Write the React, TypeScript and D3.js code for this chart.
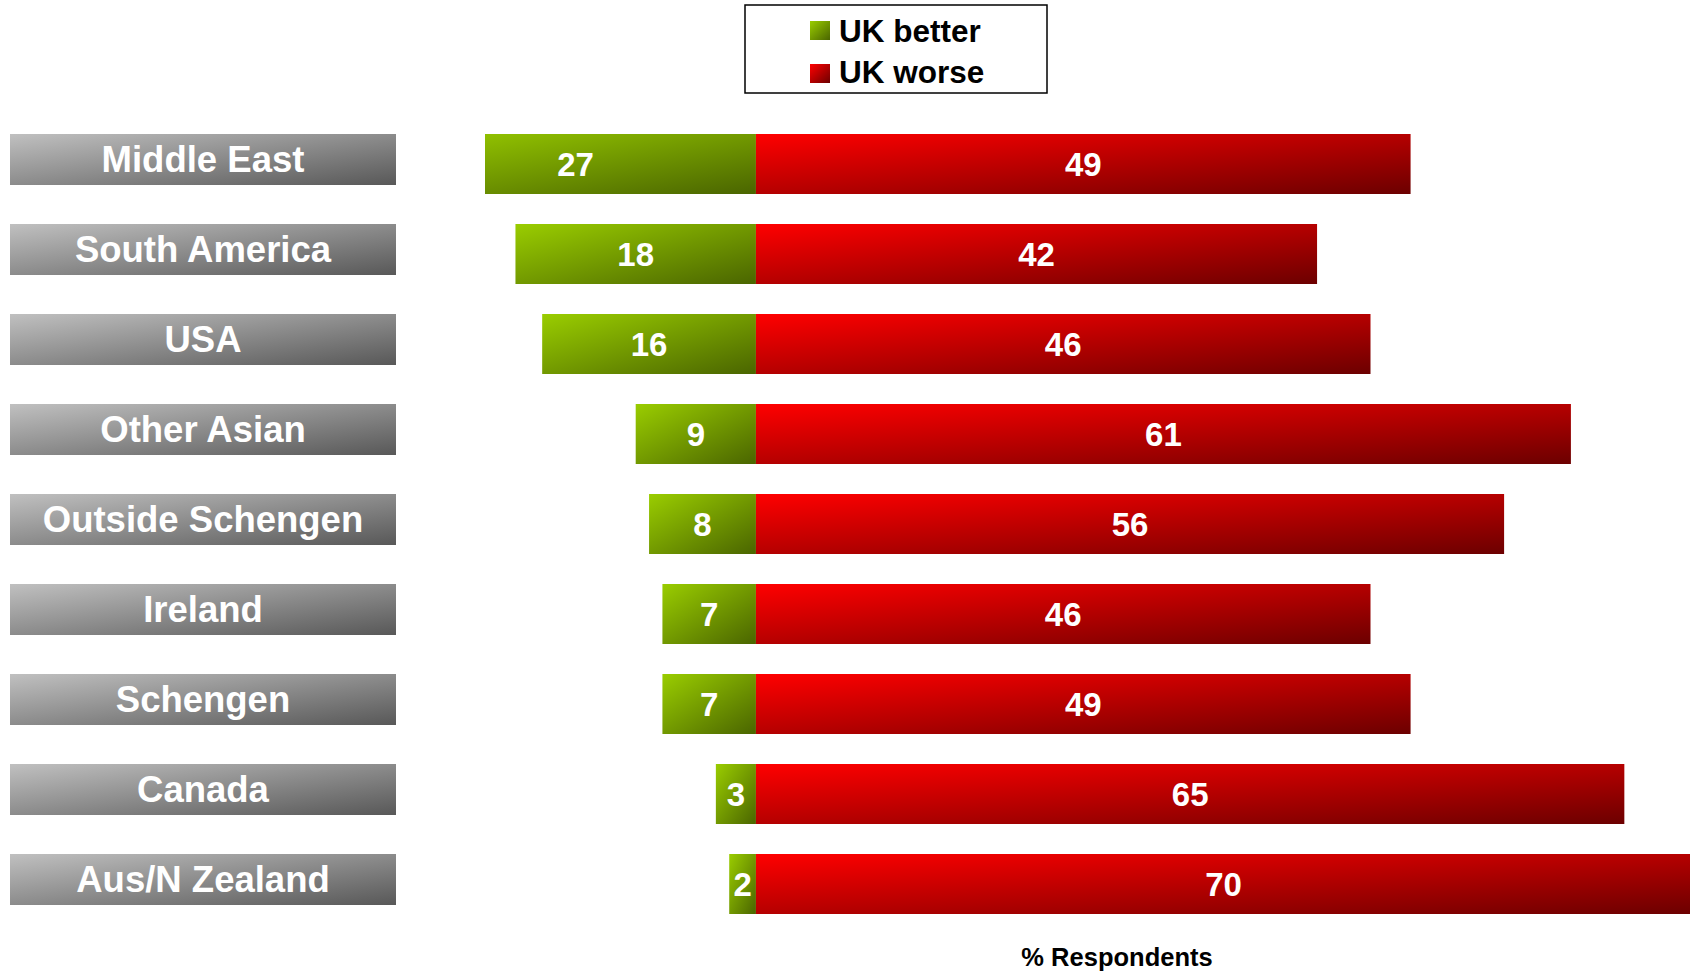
import React from "react";
import * as d3 from "d3";

const categories = [
  "Middle East",
  "South America",
  "USA",
  "Other Asian",
  "Outside Schengen",
  "Ireland",
  "Schengen",
  "Canada",
  "Aus/N Zealand",
];
const ukBetter = [27, 18, 16, 9, 8, 7, 7, 3, 2];
const ukWorse = [49, 42, 46, 61, 56, 46, 49, 65, 70];
const seriesNames = ["UK better", "UK worse"];
const axisTitle = "% Respondents";

const W = 1690;
const H = 973;
const FONT = "'Liberation Sans', Arial, Helvetica, sans-serif";

export default function App() {
  const plotLeft = 485;
  const plotRight = 1690;
  const x = d3.scaleLinear().domain([-20.28, 70]).range([485, 485 + 90.28 * 13.36]);
  const y = d3.scaleBand<string>().domain(categories).range([134, 914]).paddingInner(1 / 3).paddingOuter(0);
  const bw = y.bandwidth();

  return (
    <svg width={W} height={H} style={{ position: "absolute", left: 0, top: 0, background: "#fff" }}>
      <defs>
        <linearGradient id="gGreen" x1="0" y1="0" x2="1" y2="1">
          <stop offset="0" stopColor="#9acd00" />
          <stop offset="1" stopColor="#4a6500" />
        </linearGradient>
        <linearGradient id="gRed" x1="0" y1="0" x2="1" y2="1">
          <stop offset="0" stopColor="#ff0000" />
          <stop offset="1" stopColor="#6c0000" />
        </linearGradient>
        <linearGradient id="gGray" x1="0" y1="0" x2="1" y2="1">
          <stop offset="0" stopColor="#c0c0c0" />
          <stop offset="1" stopColor="#585858" />
        </linearGradient>
        <clipPath id="plotClip">
          <rect x={plotLeft} y={0} width={plotRight - plotLeft} height={H} />
        </clipPath>
      </defs>

      {/* category label boxes */}
      {categories.map((c) => (
        <g key={"lab" + c}>
          <rect x={10} y={y(c)!} width={386} height={51} fill="url(#gGray)" />
          <text
            x={203}
            y={y(c)! + 38}
            textAnchor="middle"
            fontFamily={FONT}
            fontWeight="bold"
            fontSize={36.5}
            fill="#fff"
          >
            {c}
          </text>
        </g>
      ))}

      {/* bars */}
      <g clipPath="url(#plotClip)">
        {categories.map((c, i) => (
          <g key={"bar" + c}>
            <rect
              x={x(-ukBetter[i])}
              y={y(c)!}
              width={x(0) - x(-ukBetter[i])}
              height={bw}
              fill="url(#gGreen)"
            />
            <rect x={x(0)} y={y(c)!} width={x(ukWorse[i]) - x(0)} height={bw} fill="url(#gRed)" />
          </g>
        ))}
      </g>

      {/* value labels */}
      {categories.map((c, i) => (
        <g key={"val" + c} fontFamily={FONT} fontWeight="bold" fontSize={33} fill="#fff" textAnchor="middle">
          <text x={(x(-ukBetter[i]) + x(0)) / 2} y={y(c)! + bw / 2 + 11.5}>
            {ukBetter[i]}
          </text>
          <text x={(x(ukWorse[i]) + x(0)) / 2} y={y(c)! + bw / 2 + 11.5}>
            {ukWorse[i]}
          </text>
        </g>
      ))}

      {/* legend */}
      <rect x={745} y={5} width={302} height={88} fill="#fff" stroke="#000" strokeWidth={1.5} />
      <rect x={810} y={21} width={20} height={19} fill="url(#gGreen)" />
      <rect x={810} y={64} width={20} height={19} fill="url(#gRed)" />
      <text x={839} y={42} fontFamily={FONT} fontWeight="bold" fontSize={31.5} fill="#000">
        {seriesNames[0]}
      </text>
      <text x={839} y={83} fontFamily={FONT} fontWeight="bold" fontSize={31.5} fill="#000">
        {seriesNames[1]}
      </text>

      {/* axis title */}
      <text x={1117} y={966} textAnchor="middle" fontFamily={FONT} fontWeight="bold" fontSize={25.5} fill="#000">
        {axisTitle}
      </text>
    </svg>
  );
}
